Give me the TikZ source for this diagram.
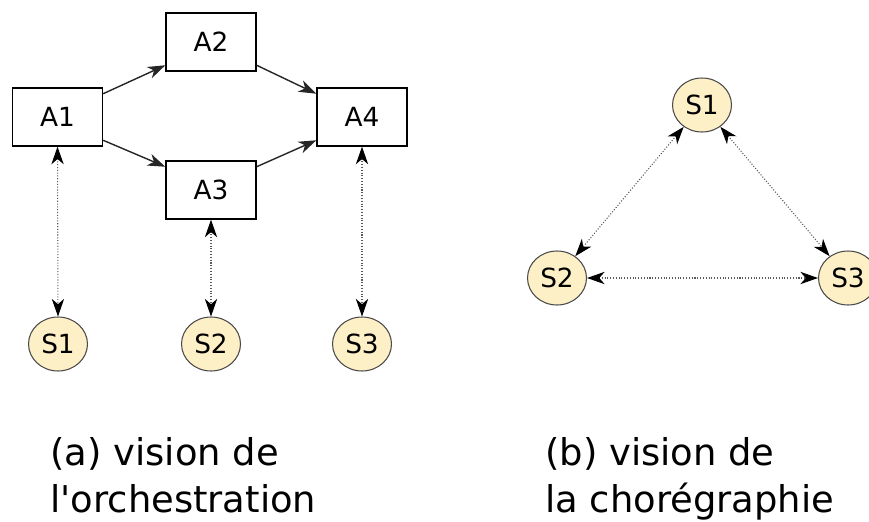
\documentclass[tikz,border=0pt]{standalone}
\usepackage{fontspec}
\setmainfont{DejaVu Sans}
\usetikzlibrary{arrows.meta, shapes.geometric, positioning}
\definecolor{servfill}{HTML}{FDEFC6}
\definecolor{servline}{HTML}{4A4A4A}
\newcommand{\exchange}[2]
{
	\draw[dotlink] (#1) -- (#2)
}

\begin{document}
\begin{tikzpicture}[x=0.02cm, y=-0.02cm,
	activity/.style={draw=black, line width=0.8pt, minimum width=1.8cm, minimum height=1.16cm, inner sep=0pt, font={\fontsize{15}{18}\selectfont}},
	service/.style={ellipse, draw=servline, fill=servfill, line width=0.6pt, minimum width=1.18cm, minimum height=1.08cm, inner sep=0pt, font={\fontsize{15}{18}\selectfont}},
	flow/.style={draw=black!85, line width=0.8pt, -{Stealth[length=10pt, width=7pt, inset=3pt]}},
	dotlink/.style={draw=black!65, line width=0.6pt, densely dotted, {Stealth[length=10pt, width=7pt, inset=3pt, black]}-{Stealth[length=10pt, width=7pt, inset=3pt, black]}},
	caption/.style={align=left, inner sep=0pt, anchor=base west, font={\fontsize{21}{26.4}\selectfont}}]

	\useasboundingbox (0,0) rectangle (869,521);

	% orchestration
	\node[activity] (a1) at (57.5,117) {A1};
	\node[activity] (a2) at (211,42) {A2};
	\node[activity] (a3) at (211,190) {A3};
	\node[activity] (a4) at (362,117) {A4};

	\node[service] (s1) at (58,344) {S1};
	\node[service] (s2) at (211,344) {S2};
	\node[service] (s3) at (362,344) {S3};

	\draw[flow] (a1.27) -- (a2.207);
	\draw[flow] (a1.-27) -- (a3.153);
	\draw[flow] (a2.-27) -- (a4.153);
	\draw[flow] (a3.27) -- (a4.207);

	\exchange{a1.south}{s1.north};
	\exchange{a3.south}{s2.north};
	\exchange{a4.south}{s3.north};

	% choregraphie
	\node[service] (c1) at (702,105) {S1};
	\node[service] (c2) at (557,278) {S2};
	\node[service] (c3) at (848,278) {S3};

	\exchange{c1}{c2};
	\exchange{c1}{c3};
	\exchange{c2}{c3};

	% captions
	\node[caption] (capa) at (50,512) {(a) vision de\\l\textquotesingle orchestration};
	\node[caption] (capb) at (545,512) {(b) vision de\\la chorégraphie};
\end{tikzpicture}
\end{document}
